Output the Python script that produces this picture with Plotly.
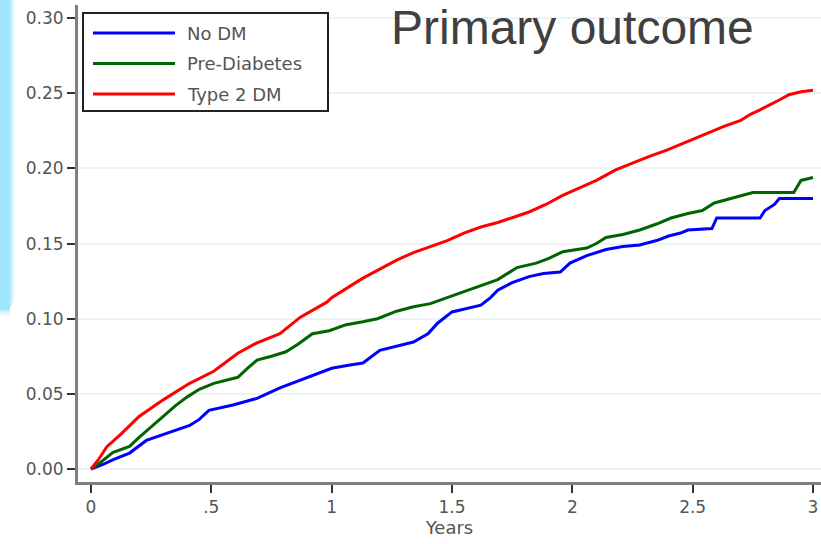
import plotly.graph_objects as go

# Cumulative incidence of the primary outcome by diabetes status
years_no_dm = [0, 0.05, 0.09, 0.16, 0.23, 0.32, 0.41, 0.45, 0.49, 0.59, 0.69, 0.785, 0.85, 0.90,
               1.00, 1.07, 1.13, 1.20, 1.27, 1.34, 1.40, 1.44, 1.50, 1.56, 1.62, 1.66, 1.69, 1.75,
               1.82, 1.88, 1.95, 1.99, 2.06, 2.14, 2.21, 2.28, 2.35, 2.40, 2.45, 2.48, 2.58, 2.60,
               2.78, 2.80, 2.84, 2.86, 3.0]
risk_no_dm = [0, 0.003, 0.006, 0.0106, 0.019, 0.024, 0.029, 0.033, 0.039, 0.0426, 0.047, 0.054,
              0.058, 0.061, 0.067, 0.069, 0.0705, 0.079, 0.082, 0.0845, 0.090, 0.097, 0.1045,
              0.107, 0.109, 0.114, 0.119, 0.124, 0.128, 0.130, 0.131, 0.137, 0.142, 0.146, 0.148,
              0.149, 0.152, 0.155, 0.157, 0.159, 0.160, 0.167, 0.167, 0.172, 0.176, 0.180, 0.180]

years_pre = [0, 0.037, 0.09, 0.16, 0.20, 0.25, 0.30, 0.35, 0.40, 0.45, 0.51, 0.56, 0.61, 0.65,
             0.69, 0.75, 0.81, 0.86, 0.92, 0.99, 1.06, 1.13, 1.19, 1.27, 1.34, 1.41, 1.48, 1.55,
             1.62, 1.69, 1.74, 1.77, 1.85, 1.90, 1.96, 2.06, 2.10, 2.14, 2.21, 2.28, 2.35, 2.41,
             2.48, 2.54, 2.59, 2.68, 2.75, 2.92, 2.95, 3.0]
risk_pre = [0, 0.004, 0.011, 0.015, 0.021, 0.028, 0.035, 0.042, 0.048, 0.053, 0.057, 0.059,
            0.061, 0.067, 0.0725, 0.075, 0.078, 0.083, 0.090, 0.092, 0.096, 0.098, 0.100, 0.105,
            0.108, 0.110, 0.114, 0.118, 0.122, 0.126, 0.131, 0.134, 0.137, 0.140, 0.1445, 0.147,
            0.150, 0.154, 0.156, 0.159, 0.163, 0.167, 0.170, 0.172, 0.177, 0.181, 0.184, 0.184,
            0.192, 0.194]

years_t2dm = [0, 0.03, 0.066, 0.12, 0.20, 0.30, 0.41, 0.51, 0.61, 0.69, 0.785, 0.87, 0.98,
              1.00, 1.07, 1.13, 1.20, 1.27, 1.34, 1.41, 1.48, 1.55, 1.62, 1.69, 1.76, 1.82, 1.89,
              1.96, 2.03, 2.10, 2.18, 2.25, 2.32, 2.39, 2.45, 2.50, 2.57, 2.63, 2.70, 2.74, 2.78,
              2.82, 2.86, 2.90, 2.95, 3.0]
risk_t2dm = [0, 0.006, 0.0148, 0.0226, 0.035, 0.046, 0.057, 0.065, 0.077, 0.084, 0.090, 0.101,
             0.111, 0.114, 0.121, 0.127, 0.133, 0.139, 0.144, 0.148, 0.152, 0.157, 0.161, 0.164,
             0.168, 0.171, 0.176, 0.182, 0.187, 0.192, 0.199, 0.2036, 0.208, 0.212, 0.216, 0.219,
             0.224, 0.228, 0.232, 0.236, 0.239, 0.242, 0.2455, 0.249, 0.251, 0.252]

group_names = ["No DM", "Pre-Diabetes", "Type 2 DM"]
group_colors = ["#0000ff", "#006400", "#ff0000"]

x_tickvals = [0, 0.5, 1, 1.5, 2, 2.5, 3]
x_ticktext = ["0", ".5", "1", "1.5", "2", "2.5", "3"]
y_tickvals = [0, 0.05, 0.10, 0.15, 0.20, 0.25, 0.30]
y_ticktext = ["0.00", "0.05", "0.10", "0.15", "0.20", "0.25", "0.30"]

W, H = 821, 544
ML, MR, MT, MB = 78, 0, 5, 62
PW, PH = W - ML - MR, H - MT - MB


def px_x(p):
    return (p - ML) / PW


def px_y(p):
    return (H - MB - p) / PH


fig = go.Figure()
series = [(years_no_dm, risk_no_dm), (years_pre, risk_pre), (years_t2dm, risk_t2dm)]
for (xs, ys), name, color in zip(series, group_names, group_colors):
    fig.add_trace(go.Scatter(x=xs, y=ys, mode="lines", name=name, showlegend=False,
                             line=dict(color=color, width=3)))

shapes = []
# light-blue slide accent on the left edge, fading at its right side
accent = "rgba(160,230,252,{a})"
shapes.append(dict(type="rect", xref="paper", yref="paper", x0=px_x(0), x1=px_x(10),
                   y0=px_y(310), y1=px_y(0), fillcolor=accent.format(a=1), line_width=0,
                   layer="below"))
for i, a in enumerate([0.8, 0.6, 0.4, 0.25, 0.12, 0.05]):
    shapes.append(dict(type="rect", xref="paper", yref="paper", x0=px_x(10 + i), x1=px_x(11 + i),
                       y0=px_y(307 - 2 * i), y1=px_y(0), fillcolor=accent.format(a=a),
                       line_width=0, layer="below"))
for j, a in enumerate([0.6, 0.35, 0.15]):
    shapes.append(dict(type="rect", xref="paper", yref="paper", x0=px_x(0), x1=px_x(10),
                       y0=px_y(312 + 2 * j), y1=px_y(310 + 2 * j), fillcolor=accent.format(a=a),
                       line_width=0, layer="below"))

# legend box
shapes.append(dict(type="rect", xref="paper", yref="paper", x0=px_x(83), x1=px_x(328),
                   y0=px_y(111), y1=px_y(13), fillcolor="white",
                   line=dict(color="#222222", width=2)))
annotations = []
for k, (name, color) in enumerate(zip(group_names, group_colors)):
    yy = 33 + k * 30.5
    shapes.append(dict(type="line", xref="paper", yref="paper", x0=px_x(93), x1=px_x(175),
                       y0=px_y(yy), y1=px_y(yy), line=dict(color=color, width=3)))
    annotations.append(dict(text=name, xref="paper", yref="paper", x=px_x(185), y=px_y(yy),
                            xanchor="left", yanchor="middle", showarrow=False,
                            font=dict(family="DejaVu Sans", size=18, color="#555555")))

annotations.append(dict(text="Primary outcome", xref="paper", yref="paper", x=px_x(389),
                        y=px_y(28), xanchor="left", yanchor="middle", showarrow=False,
                        font=dict(family="Liberation Sans, Arial", size=48, color="#404040")))

axis_common = dict(showline=True, linecolor="#808080", linewidth=3, ticks="outside",
                   ticklen=8, tickwidth=2, tickcolor="#333333", zeroline=False,
                   tickfont=dict(family="DejaVu Sans", size=17, color="#555555"))

fig.update_layout(
    width=W, height=H,
    margin=dict(l=ML, r=MR, t=MT, b=MB),
    paper_bgcolor="white", plot_bgcolor="white",
    shapes=shapes, annotations=annotations,
    showlegend=False,
    xaxis=dict(range=[-(91 - ML) / 240.67, 3 + (W - MR - 813) / 240.67],
               tickvals=x_tickvals, ticktext=x_ticktext, showgrid=False,
               title=dict(text="Years", standoff=2,
                          font=dict(family="DejaVu Sans", size=18, color="#555555")),
               **axis_common),
    yaxis=dict(range=[-(H - MB - 469) / 1503, (469 - MT) / 1503],
               tickvals=y_tickvals, ticktext=y_ticktext, showgrid=True,
               gridcolor="#edf3f3", gridwidth=2, **axis_common),
)

fig.write_html("out.html")
